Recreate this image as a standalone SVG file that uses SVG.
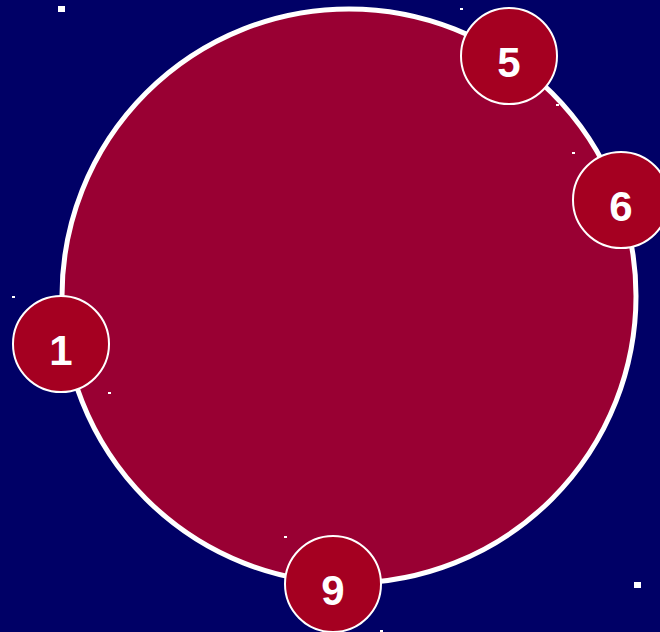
<svg xmlns="http://www.w3.org/2000/svg" width="660" height="632" viewBox="0 0 660 632">
<style>
.n circle{fill:#a50021;stroke:#fff;stroke-width:2}
.n text{fill:#fff;font-family:"Liberation Sans",Arial,sans-serif;font-weight:bold;font-size:42px;text-anchor:middle}
.d{fill:#fff}
</style>
<rect width="660" height="632" fill="#000066"/>
<g id="main"><circle cx="349" cy="296" r="287" fill="#990033" stroke="#fff" stroke-width="5"/></g>
<g id="dots">
<rect class="d" x="58" y="6" width="7" height="6"/>
<rect class="d" x="634" y="582" width="7" height="6"/>
<rect class="d" x="460" y="8" width="3" height="2"/>
<rect class="d" x="556" y="104" width="3" height="2"/>
<rect class="d" x="572" y="152" width="3" height="2"/>
<rect class="d" x="12" y="296" width="3" height="2"/>
<rect class="d" x="108" y="392" width="3" height="2"/>
<rect class="d" x="284" y="536" width="3" height="2"/>
<rect class="d" x="380" y="630" width="3" height="2"/>
</g>
<g id="connectors"></g>
<g id="n5" class="n"><circle cx="509" cy="56" r="48"/><text x="509" y="77">5</text></g>
<g id="n6" class="n"><circle cx="621" cy="200" r="48"/><text x="621" y="221">6</text></g>
<g id="n1" class="n"><circle cx="61" cy="344" r="48"/><text x="61" y="365">1</text></g>
<g id="n9" class="n"><circle cx="333" cy="584" r="48"/><text x="333" y="605">9</text></g>
</svg>
